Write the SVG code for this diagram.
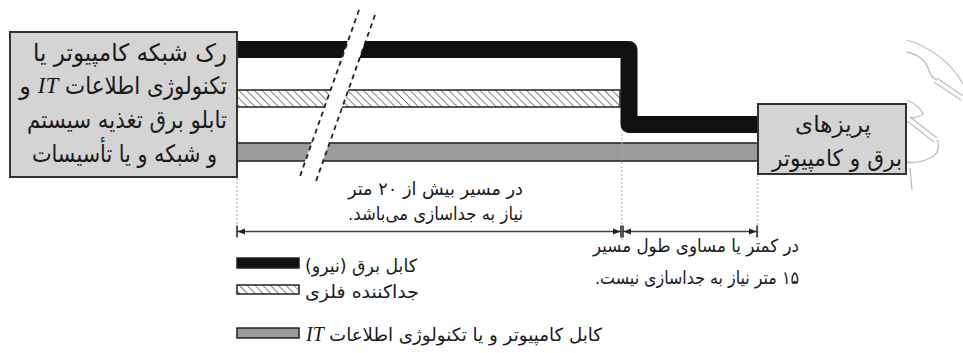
<svg xmlns="http://www.w3.org/2000/svg" width="963" height="353" viewBox="0 0 963 353">
<style>
  .fa { font-family: "DejaVu Sans", "Noto Sans", sans-serif; fill: #1a1a1a; }
  .it { font-family: "Liberation Serif", serif; font-style: italic; fill: #1a1a1a; }
  .box { fill: #d4d4d4; stroke: #333; stroke-width: 2; }
  .outline { stroke: #222; stroke-width: 1.5; }
  .dot { stroke: #aaa; stroke-width: 1; stroke-dasharray: 2 2; fill: none; }
  .brk { stroke: #222; stroke-width: 1.8; stroke-dasharray: 5 4; fill: none; }
  .dim { stroke: #444; stroke-width: 1.5; fill: none; }
  .plug { stroke: #bdbdbd; stroke-width: 1.3; fill: none; }
</style>
<defs>
  <pattern id="hatch" width="5.5" height="5.5" patternUnits="userSpaceOnUse" patternTransform="rotate(-45)">
    <rect width="5.5" height="5.5" fill="#fff"/>
    <line x1="0" y1="0" x2="0" y2="5.5" stroke="#333" stroke-width="1.2"/>
  </pattern>
  <marker id="arr" viewBox="0 -3 10 13" markerWidth="10" markerHeight="13" refX="9" refY="3.5" markerUnits="userSpaceOnUse" orient="auto-start-reverse">
    <path d="M1,0.5 L8.5,3.5 L1,6.5 z" fill="#222"/>
    <path d="M9,-2.5 V9.5" stroke="#222" stroke-width="1.5"/>
  </marker>
</defs>
<rect width="963" height="353" fill="#fff"/>

<!-- decorative plug outline -->
<g id="plug">
  <path class="plug" d="M907,40 Q945,52 963,84"/>
  <path class="plug" d="M907,52 Q924,56 928,68 Q931,78 937,80"/>
  <path class="plug" d="M937,78 L963,96 M934,82 L961,100"/>
  <path class="plug" d="M907,100 Q920,106 923,114 Q918,118 910,118"/>
  <path class="plug" d="M910,117 L937,138 M907,121 L934,142"/>
  <path class="plug" d="M937,140 Q942,152 930,158 Q918,164 907,162"/>
  <path class="plug" d="M910,168 L912,190"/>
</g>

<!-- connectors / cables -->
<g id="connectors">
  <path d="M237,49.5 H629 V124.5 H758" fill="none" stroke="#111" stroke-width="17" stroke-linejoin="round"/>
  <rect x="237" y="90" width="383" height="17" fill="url(#hatch)" class="outline"/>
  <rect x="237" y="143" width="521" height="18" fill="#9b9b9b" class="outline"/>
  <polygon points="358,12 374,17 315,183 299,178" fill="#fff"/>
  <line class="brk" x1="359" y1="10" x2="299" y2="179"/>
  <line class="brk" x1="375" y1="15" x2="315" y2="184"/>
  <line class="dot" x1="237" y1="178" x2="237" y2="238"/>
  <line class="dot" x1="622" y1="134" x2="622" y2="240"/>
  <line class="dot" x1="758" y1="175" x2="758" y2="240"/>
  <line class="dim" x1="237" y1="231.5" x2="621" y2="231.5" marker-start="url(#arr)" marker-end="url(#arr)"/>
  <line class="dim" x1="623" y1="231.5" x2="757" y2="231.5" marker-start="url(#arr)" marker-end="url(#arr)"/>
</g>

<g id="rack">
  <rect class="box" x="10" y="32" width="227" height="145"/>
  <text class="fa" direction="rtl" text-anchor="middle" font-size="24" x="130" y="61" textLength="194" lengthAdjust="spacingAndGlyphs">رک شبکه کامپیوتر یا</text>
  <text class="fa" direction="rtl" text-anchor="middle" font-size="24" x="146" y="94" textLength="162" lengthAdjust="spacingAndGlyphs">تکنولوژی اطلاعات</text>
  <text class="it" text-anchor="middle" font-size="23" x="48" y="93">IT</text>
  <text class="fa" text-anchor="middle" font-size="24" x="25" y="94">و</text>
  <text class="fa" direction="rtl" text-anchor="middle" font-size="24" x="127" y="128" textLength="200" lengthAdjust="spacingAndGlyphs">تابلو برق تغذیه سیستم</text>
  <text class="fa" direction="rtl" text-anchor="middle" font-size="24" x="124.5" y="162" textLength="185" lengthAdjust="spacingAndGlyphs">و شبکه و یا تأسیسات</text>
</g>

<g id="outlets">
  <rect class="box" x="758" y="104" width="148" height="70"/>
  <text class="fa" direction="rtl" text-anchor="middle" font-size="23" x="833" y="132" textLength="76" lengthAdjust="spacingAndGlyphs">پریزهای</text>
  <text class="fa" direction="rtl" text-anchor="middle" font-size="23" x="837" y="166" textLength="130" lengthAdjust="spacingAndGlyphs">برق و کامپیوتر</text>
</g>

<g id="label-long">
  <text class="fa" direction="rtl" text-anchor="middle" font-size="18" x="435.5" y="195" textLength="175" lengthAdjust="spacingAndGlyphs">در  مسیر بیش از ۲۰ متر</text>
  <text class="fa" direction="rtl" text-anchor="middle" font-size="18" x="435.5" y="220" textLength="175" lengthAdjust="spacingAndGlyphs">نیاز به جداسازی می‌باشد.</text>
</g>

<g id="label-short">
  <text class="fa" direction="rtl" text-anchor="middle" font-size="18" x="696" y="252" textLength="206" lengthAdjust="spacingAndGlyphs">در کمتر یا مساوی طول مسیر</text>
  <text class="fa" direction="rtl" text-anchor="middle" font-size="18" x="697" y="284" textLength="204" lengthAdjust="spacingAndGlyphs">۱۵ متر نیاز به جداسازی نیست.</text>
</g>

<g id="legend">
  <rect x="237" y="258" width="62" height="10" fill="#111" class="outline"/>
  <text class="fa" direction="rtl" text-anchor="middle" font-size="18" x="361" y="272" textLength="112" lengthAdjust="spacingAndGlyphs">کابل برق (نیرو)</text>
  <rect x="237" y="285" width="62" height="9" fill="url(#hatch)" class="outline"/>
  <text class="fa" direction="rtl" text-anchor="middle" font-size="18" x="362" y="298" textLength="114" lengthAdjust="spacingAndGlyphs">جداکننده فلزی</text>
  <rect x="237" y="328" width="62" height="10" fill="#9b9b9b" class="outline"/>
  <text class="fa" direction="rtl" text-anchor="middle" font-size="18" x="465.5" y="341" textLength="273" lengthAdjust="spacingAndGlyphs">کابل کامپیوتر و یا تکنولوژی اطلاعات</text>
  <text class="it" text-anchor="middle" font-size="20" x="315" y="341">IT</text>
</g>
</svg>
